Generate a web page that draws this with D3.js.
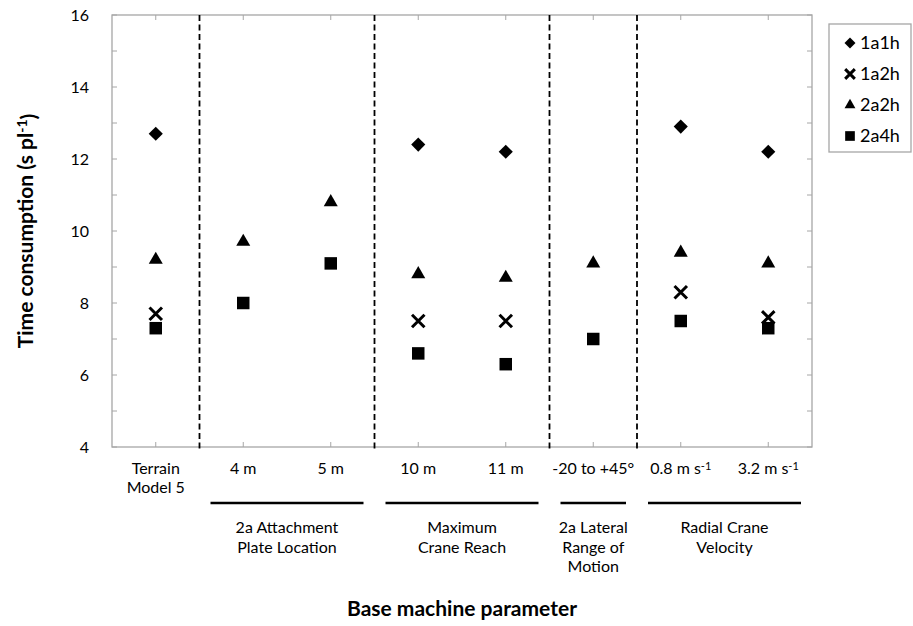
<!DOCTYPE html>
<html>
<head>
<meta charset="utf-8">
<script src="https://cdn.jsdelivr.net/npm/d3@7"></script>
<style>
body { margin: 0; background: #fff; }
text { font-family: Lato, "Open Sans", sans-serif; fill: #000; }
</style>
</head>
<body>
<div id="chart"></div>
<script>

var width = 913,
	height = 626,
	margin = {top: 15, right: 101, bottom: 179, left: 112};

// categories along the x axis, labels may carry a superscript part
var categories = ["tm5", "4m", "5m", "10m", "11m", "lat", "v08", "v32"];
var catlabels = [
	[["Terrain", ""], ["Model 5", ""]],
	[["4 m", ""]],
	[["5 m", ""]],
	[["10 m", ""]],
	[["11 m", ""]],
	[["-20 to +45°", ""]],
	[["0.8 m s", "-1"]],
	[["3.2 m s", "-1"]]
];

// parameter groups below the labels (first and last category of each)
var groups = [
	{name: ["2a Attachment", "Plate Location"], from: "4m", to: "5m"},
	{name: ["Maximum", "Crane Reach"], from: "10m", to: "11m"},
	{name: ["2a Lateral", "Range of", "Motion"], from: "lat", to: "lat"},
	{name: ["Radial Crane", "Velocity"], from: "v08", to: "v32"}
];
var separators = ["4m", "10m", "lat", "v08"];

// series values (null = no observation)
var s1a1h = [12.7, null, null, 12.4, 12.2, null, 12.9, 12.2];
var s1a2h = [7.7, null, null, 7.5, 7.5, null, 8.3, 7.6];
var s2a2h = [9.2, 9.7, 10.8, 8.8, 8.7, 9.1, 9.4, 9.1];
var s2a4h = [7.3, 8.0, 9.1, 6.6, 6.3, 7.0, 7.5, 7.3];

var yticks = [4, 6, 8, 10, 12, 14, 16];

// stroked x symbol
var symX = {
	draw: function(context, size) {
		var r = Math.sqrt(size) / 2;
		context.moveTo(-r, -r); context.lineTo(r, r);
		context.moveTo(r, -r); context.lineTo(-r, r);
	}
};

var series = [
	{name: "1a1h", values: s1a1h, type: d3.symbolSquare, size: 100, rotate: 45, stroke: false},
	{name: "1a2h", values: s1a2h, type: symX, size: 156, rotate: 0, stroke: true},
	{name: "2a2h", values: s2a2h, type: d3.symbolTriangle, size: 85, rotate: 0, stroke: false},
	{name: "2a4h", values: s2a4h, type: d3.symbolSquare, size: 156, rotate: 0, stroke: false}
];

var w = width - margin.left - margin.right,
	h = height - margin.top - margin.bottom;

var X = d3.scaleBand().domain(categories).range([0, w]);
var Y = d3.scaleLinear().domain([4, 16]).range([h, 0]);

var svg = d3.select("#chart").append("svg")
	.attr("width", width)
	.attr("height", height);

var g = svg.append("g")
	.attr("transform", "translate(" + margin.left + "," + margin.top + ")");

var axiscolor = "#a6a6a6";

// frame
g.append("rect")
	.attr("width", w).attr("height", h)
	.attr("fill", "none")
	.attr("stroke", axiscolor)
	.attr("stroke-width", 1.3);

// inner ticks, left and right, every unit
var minor = d3.range(4, 17, 1);
g.selectAll(".ytl").data(minor).enter().append("line")
	.attr("x1", 0).attr("x2", 5)
	.attr("y1", Y).attr("y2", Y)
	.attr("stroke", axiscolor);
g.selectAll(".ytr").data(minor).enter().append("line")
	.attr("x1", w - 5).attr("x2", w)
	.attr("y1", Y).attr("y2", Y)
	.attr("stroke", axiscolor);

// ticks at category centres, top and bottom
g.selectAll(".xtb").data(categories).enter().append("line")
	.attr("x1", function(d){ return X(d) + X.bandwidth() / 2; })
	.attr("x2", function(d){ return X(d) + X.bandwidth() / 2; })
	.attr("y1", h - 5).attr("y2", h)
	.attr("stroke", axiscolor);
g.selectAll(".xtt").data(categories).enter().append("line")
	.attr("x1", function(d){ return X(d) + X.bandwidth() / 2; })
	.attr("x2", function(d){ return X(d) + X.bandwidth() / 2; })
	.attr("y1", 0).attr("y2", 5)
	.attr("stroke", axiscolor);

// y tick labels
g.selectAll(".ylab").data(yticks).enter().append("text")
	.attr("x", -23)
	.attr("y", Y)
	.attr("dy", "0.35em")
	.attr("text-anchor", "end")
	.style("font-size", "16px")
	.text(function(d){ return d; });

// dashed group separators
g.selectAll(".sep").data(separators).enter().append("line")
	.attr("x1", X).attr("x2", X)
	.attr("y1", 0).attr("y2", h + 2)
	.attr("stroke", "#000")
	.attr("stroke-width", 1.8)
	.attr("stroke-dasharray", "6,3.5");

// category labels
var cl = g.selectAll(".cl").data(categories).enter().append("text")
	.attr("x", function(d){ return X(d) + X.bandwidth() / 2; })
	.attr("y", h + 27)
	.attr("text-anchor", "middle")
	.style("font-size", "16px");
cl.each(function(d, i){
	var t = d3.select(this);
	catlabels[i].forEach(function(line, j){
		t.append("tspan")
			.attr("x", X(d) + X.bandwidth() / 2)
			.attr("dy", j ? "1.2em" : 0)
			.text(line[0]);
		if (line[1]) {
			t.append("tspan")
				.attr("dy", "-0.4em")
				.style("font-size", "11px")
				.text(line[1]);
			t.append("tspan").attr("dy", "0.4em").text("");
		}
	});
});

// group underlines and names
groups.forEach(function(gr){
	var x0 = X(gr.from) + 11,
		x1 = X(gr.to) + X.bandwidth() - 11;
	g.append("line")
		.attr("x1", x0).attr("x2", x1)
		.attr("y1", h + 56).attr("y2", h + 56)
		.attr("stroke", "#000")
		.attr("stroke-width", 2.6);
	var t = g.append("text")
		.attr("y", h + 86)
		.attr("text-anchor", "middle")
		.style("font-size", "16px");
	gr.name.forEach(function(line, j){
		t.append("tspan")
			.attr("x", (x0 + x1) / 2)
			.attr("dy", j ? "1.22em" : 0)
			.text(line);
	});
});

// axis titles
svg.append("text")
	.attr("x", margin.left + w / 2)
	.attr("y", 616)
	.attr("text-anchor", "middle")
	.style("font-size", "21px")
	.style("font-weight", "bold")
	.text("Base machine parameter");

var yt = svg.append("text")
	.attr("transform", "translate(33," + (margin.top + h / 2) + ") rotate(-90)")
	.attr("text-anchor", "middle")
	.style("font-size", "21px")
	.style("font-weight", "bold");
yt.append("tspan").text("Time consumption (s pl");
yt.append("tspan").attr("dy", "-0.45em").style("font-size", "14px").text("-1");
yt.append("tspan").attr("dy", "0.45em").text(")");

// markers
function symbolPath(s){ return d3.symbol().type(s.type).size(s.size)(); }

series.forEach(function(s){
	var pts = categories.map(function(c, i){ return {c: c, v: s.values[i]}; })
		.filter(function(d){ return d.v != null; });
	g.selectAll(".m" + s.name).data(pts).enter().append("path")
		.attr("d", symbolPath(s))
		.attr("transform", function(d){
			return "translate(" + (X(d.c) + X.bandwidth() / 2) + "," + Y(d.v) + ") rotate(" + s.rotate + ")";
		})
		.attr("fill", s.stroke ? "none" : "#000")
		.attr("stroke", s.stroke ? "#000" : "none")
		.attr("stroke-width", 3);
});

// legend
var lg = svg.append("g").attr("transform", "translate(829,24)");
lg.append("rect")
	.attr("width", 82).attr("height", 128)
	.attr("fill", "#fff")
	.attr("stroke", axiscolor)
	.attr("stroke-width", 1.3);
var li = lg.selectAll(".li").data(series).enter().append("g")
	.attr("transform", function(d, i){ return "translate(21," + (19 + i * 31) + ")"; });
li.append("path")
	.attr("d", function(s){
		return d3.symbol().type(s.type).size(s.size * 0.6)();
	})
	.attr("transform", function(s){ return "rotate(" + s.rotate + ")"; })
	.attr("fill", function(s){ return s.stroke ? "none" : "#000"; })
	.attr("stroke", function(s){ return s.stroke ? "#000" : "none"; })
	.attr("stroke-width", 3);
li.append("text")
	.attr("x", 10)
	.attr("dy", "0.35em")
	.style("font-size", "18px")
	.text(function(s){ return s.name; });

</script>
</body>
</html>
